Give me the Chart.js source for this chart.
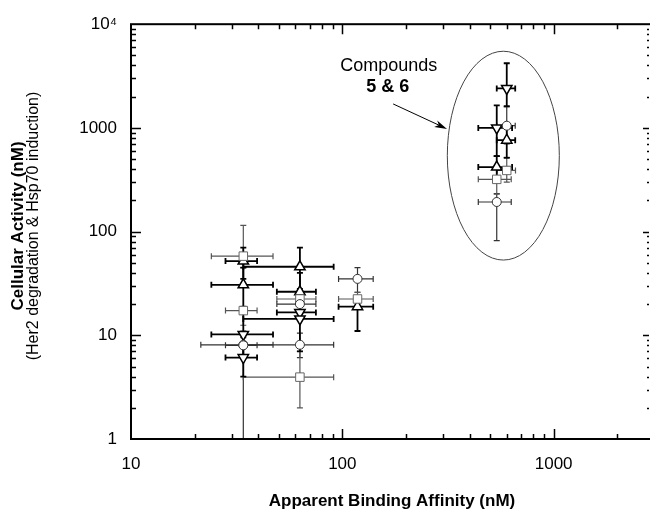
<!DOCTYPE html>
<html>
<head>
<meta charset="utf-8">
<script src="https://cdn.jsdelivr.net/npm/chart.js@4"></script>
<style>
  html, body { margin: 0; padding: 0; background: #fff; }
</style>
</head>
<body>
<canvas id="affinityChart" width="650" height="510"></canvas>
<script>
// circles
const circleX     = [34, 34, 63, 63, 118, 600, 538];
const circleY     = [8.1, 8.0, 20, 8.1, 35, 1050, 193];
const circleXLow  = [21.4, 28, 49, 34, 96, 538, 440];
const circleXHigh = [47, 39.5, 75, 91, 140, 658, 630];
const circleYLow  = [0.5, 6.5, 17, 6.1, 26, 700, 82];
const circleYHigh = [11, 9.5, 24, 10.5, 45, 1600, 232];

// squares
const squareX     = [34, 34, 63, 63, 118, 600, 538];
const squareY     = [58, 17.3, 22.4, 3.95, 22.4, 389, 319];
const squareXLow  = [24, 28, 49, 34, 96, 540, 440];
const squareXHigh = [47, 39.5, 75, 91, 140, 660, 630];
const squareYLow  = [45, 12.5, 19, 2, 19, 300, 230];
const squareYHigh = [115, 19, 25, 7, 26, 520, 420];

// triangles (up)
const upX     = [34, 34, 63, 63, 118, 600, 538];
const upY     = [52, 30.7, 45.8, 26.3, 18.9, 762, 419];
const upXLow  = [28, 24, 34, 49, 96, 538, 440];
const upXHigh = [39.5, 47, 91, 75, 140, 658, 636];
const upYLow  = [35, 18, 28, 16, 11, 515, 300];
const upYHigh = [70, 45, 70, 40, 24, 1000, 535];

// triangles (down)
const downX     = [34, 34, 63, 63, 600, 538];
const downY     = [10.2, 6.1, 16.6, 14.4, 2400, 1000];
const downXLow  = [24, 28, 49, 34, 538, 440];
const downXHigh = [47, 39.5, 75, 91, 658, 636];
const downYLow  = [6, 4.0, 14, 7, 1617, 535];
const downYHigh = [17, 8, 20, 21, 4200, 1650];

const xTicks = [10, 100, 1000];
const yTicks = [1, 10, 100, 1000, 10000];

const FONT = '"Liberation Sans", Arial, Helvetica, sans-serif';

function series(xs, ys, xl, xh, yl, yh) {
  return {
    points: xs.map((v, i) => ({ x: v, y: ys[i] })),
    errors: { xLow: xl, xHigh: xh, yLow: yl, yHigh: yh }
  };
}

const circles = series(circleX, circleY, circleXLow, circleXHigh, circleYLow, circleYHigh);
const squares = series(squareX, squareY, squareXLow, squareXHigh, squareYLow, squareYHigh);
const ups = series(upX, upY, upXLow, upXHigh, upYLow, upYHigh);
const downs = series(downX, downY, downXLow, downXHigh, downYLow, downYHigh);

// error bars, drawn under the markers
const errorBars = {
  id: 'errorBars',
  beforeDatasetsDraw(chart) {
    const { ctx, chartArea: a, scales: { x, y } } = chart;
    const cap = 3;
    ctx.save();
    ctx.beginPath();
    ctx.rect(a.left, a.top, a.right - a.left, a.bottom - a.top);
    ctx.clip();
    chart.data.datasets.forEach(ds => {
      const e = ds.errors;
      ctx.strokeStyle = ds.barColor;
      ctx.lineWidth = ds.barWidth;
      ds.data.forEach((p, i) => {
        const px = x.getPixelForValue(p.x);
        const py = y.getPixelForValue(p.y);
        const x0 = x.getPixelForValue(e.xLow[i]);
        const x1 = x.getPixelForValue(e.xHigh[i]);
        const y0 = y.getPixelForValue(e.yLow[i]);
        const y1 = y.getPixelForValue(e.yHigh[i]);
        ctx.beginPath();
        ctx.moveTo(x0, py); ctx.lineTo(x1, py);
        ctx.moveTo(x0, py - cap); ctx.lineTo(x0, py + cap);
        ctx.moveTo(x1, py - cap); ctx.lineTo(x1, py + cap);
        ctx.moveTo(px, y0); ctx.lineTo(px, y1);
        ctx.moveTo(px - cap, y0); ctx.lineTo(px + cap, y0);
        ctx.moveTo(px - cap, y1); ctx.lineTo(px + cap, y1);
        ctx.stroke();
      });
    });
    ctx.restore();
  }
};

// frame with inward ticks, annotation and axis titles
const frame = {
  id: 'frame',
  afterDraw(chart) {
    const { ctx, chartArea: a, scales: { x, y } } = chart;
    ctx.save();
    ctx.strokeStyle = '#000';
    ctx.lineWidth = 2;
    ctx.strokeRect(a.left, a.top, a.right - a.left + 2, a.bottom - a.top);

    ctx.lineWidth = 1.5;
    ctx.beginPath();
    for (let k = 1; k <= 3; k++) {
      for (let m = 1; m <= 9; m++) {
        const v = m * Math.pow(10, k);
        if (v <= x.min || v > x.max) continue;
        const px = Math.round(x.getPixelForValue(v)) + 0.5;
        const len = m === 1 ? 10 : 5;
        ctx.moveTo(px, a.bottom); ctx.lineTo(px, a.bottom - len);
        ctx.moveTo(px, a.top); ctx.lineTo(px, a.top + len);
      }
    }
    for (let k = 0; k <= 3; k++) {
      for (let m = 1; m <= 9; m++) {
        const v = m * Math.pow(10, k);
        if (v <= y.min || v >= y.max) continue;
        const py = Math.round(y.getPixelForValue(v)) + 0.5;
        ctx.moveTo(a.left, py); ctx.lineTo(a.left + (m === 1 ? 10 : 5), py);
        ctx.moveTo(a.right - 1, py); ctx.lineTo(a.right - (m === 1 ? 7 : 3), py);
      }
    }
    ctx.stroke();

    // ellipse around compounds 5 & 6
    const cx = x.getPixelForValue(578), cy = y.getPixelForValue(540);
    const rx = (x.getPixelForValue(1064) - x.getPixelForValue(314)) / 2;
    const ry = (y.getPixelForValue(53) - y.getPixelForValue(5470)) / 2;
    ctx.strokeStyle = '#444';
    ctx.lineWidth = 1;
    ctx.beginPath();
    ctx.ellipse(cx, cy, rx, ry, 0, 0, Math.PI * 2);
    ctx.stroke();

    // arrow
    const ax0 = x.getPixelForValue(174), ay0 = y.getPixelForValue(1702);
    const ax1 = x.getPixelForValue(313), ay1 = y.getPixelForValue(978);
    const ang = Math.atan2(ay1 - ay0, ax1 - ax0);
    ctx.strokeStyle = '#000';
    ctx.fillStyle = '#000';
    ctx.beginPath();
    ctx.moveTo(ax0, ay0); ctx.lineTo(ax1 - 8 * Math.cos(ang), ay1 - 8 * Math.sin(ang));
    ctx.stroke();
    ctx.beginPath();
    ctx.moveTo(ax1, ay1);
    ctx.lineTo(ax1 - 13 * Math.cos(ang - 0.28), ay1 - 13 * Math.sin(ang - 0.28));
    ctx.lineTo(ax1 - 9 * Math.cos(ang), ay1 - 9 * Math.sin(ang));
    ctx.lineTo(ax1 - 13 * Math.cos(ang + 0.28), ay1 - 13 * Math.sin(ang + 0.28));
    ctx.closePath();
    ctx.fill();

    // label
    ctx.textAlign = 'center';
    ctx.textBaseline = 'middle';
    ctx.font = '18px ' + FONT;
    ctx.fillText('Compounds', x.getPixelForValue(166), y.getPixelForValue(3917));
    ctx.font = 'bold 18px ' + FONT;
    ctx.fillText('5 & 6', x.getPixelForValue(164), y.getPixelForValue(2460));

    // axis titles
    ctx.font = 'bold 17px ' + FONT;
    ctx.fillText('Apparent Binding Affinity (nM)', 392, 501);
    ctx.translate(18, 226);
    ctx.rotate(-Math.PI / 2);
    ctx.font = 'bold 17px ' + FONT;
    ctx.fillText('Cellular Activity (nM)', 0, 0);
    ctx.font = '16px ' + FONT;
    ctx.fillText('(Her2 degradation & Hsp70 induction)', 0, 16);
    ctx.restore();
  }
};

const ctx = document.getElementById('affinityChart').getContext('2d');

const affinityChart = new Chart(ctx, {
  type: 'scatter',
  data: {
    datasets: [{
      label: 'circles',
      data: circles.points,
      errors: circles.errors,
      barColor: '#333',
      barWidth: 1.2,
      pointStyle: 'circle',
      radius: 4.5,
      backgroundColor: '#fff',
      borderColor: '#333',
      borderWidth: 1
    }, {
      label: 'squares',
      data: squares.points,
      errors: squares.errors,
      barColor: '#555',
      barWidth: 1.2,
      pointStyle: 'rect',
      radius: 6,
      backgroundColor: '#fff',
      borderColor: '#666',
      borderWidth: 1
    }, {
      label: 'triangles up',
      data: ups.points,
      errors: ups.errors,
      barColor: '#000',
      barWidth: 1.8,
      pointStyle: 'triangle',
      radius: 6,
      backgroundColor: '#fff',
      borderColor: '#000',
      borderWidth: 1.5
    }, {
      label: 'triangles down',
      data: downs.points,
      errors: downs.errors,
      barColor: '#000',
      barWidth: 1.8,
      pointStyle: 'triangle',
      rotation: 180,
      radius: 6,
      backgroundColor: '#fff',
      borderColor: '#000',
      borderWidth: 1.5
    }]
  },
  options: {
    responsive: false,
    animation: false,
    layout: { autoPadding: false, padding: { top: 22, right: 0, left: 0, bottom: 0 } },
    plugins: {
      legend: { display: false },
      tooltip: { enabled: false }
    },
    scales: {
      x: {
        type: 'logarithmic',
        min: 10,
        max: 2858,
        afterBuildTicks: s => { s.ticks = xTicks.map(v => ({ value: v })); },
        afterFit: s => { s.height = 71; },
        grid: { display: false, drawTicks: false },
        border: { display: false },
        ticks: {
          padding: 15,
          color: '#000',
          maxRotation: 0,
          font: { family: FONT, size: 17 },
          callback: v => String(v)
        }
      },
      y: {
        type: 'logarithmic',
        min: 1,
        max: 10000,
        afterBuildTicks: s => { s.ticks = yTicks.map(v => ({ value: v })); },
        afterFit: s => { s.width = 131; },
        grid: { display: false, drawTicks: false },
        border: { display: false },
        ticks: {
          padding: 14,
          color: '#000',
          font: { family: FONT, size: 17 },
          callback: v => v === 10000 ? '10⁴' : String(v)
        }
      }
    }
  },
  plugins: [errorBars, frame]
});
</script>
</body>
</html>
